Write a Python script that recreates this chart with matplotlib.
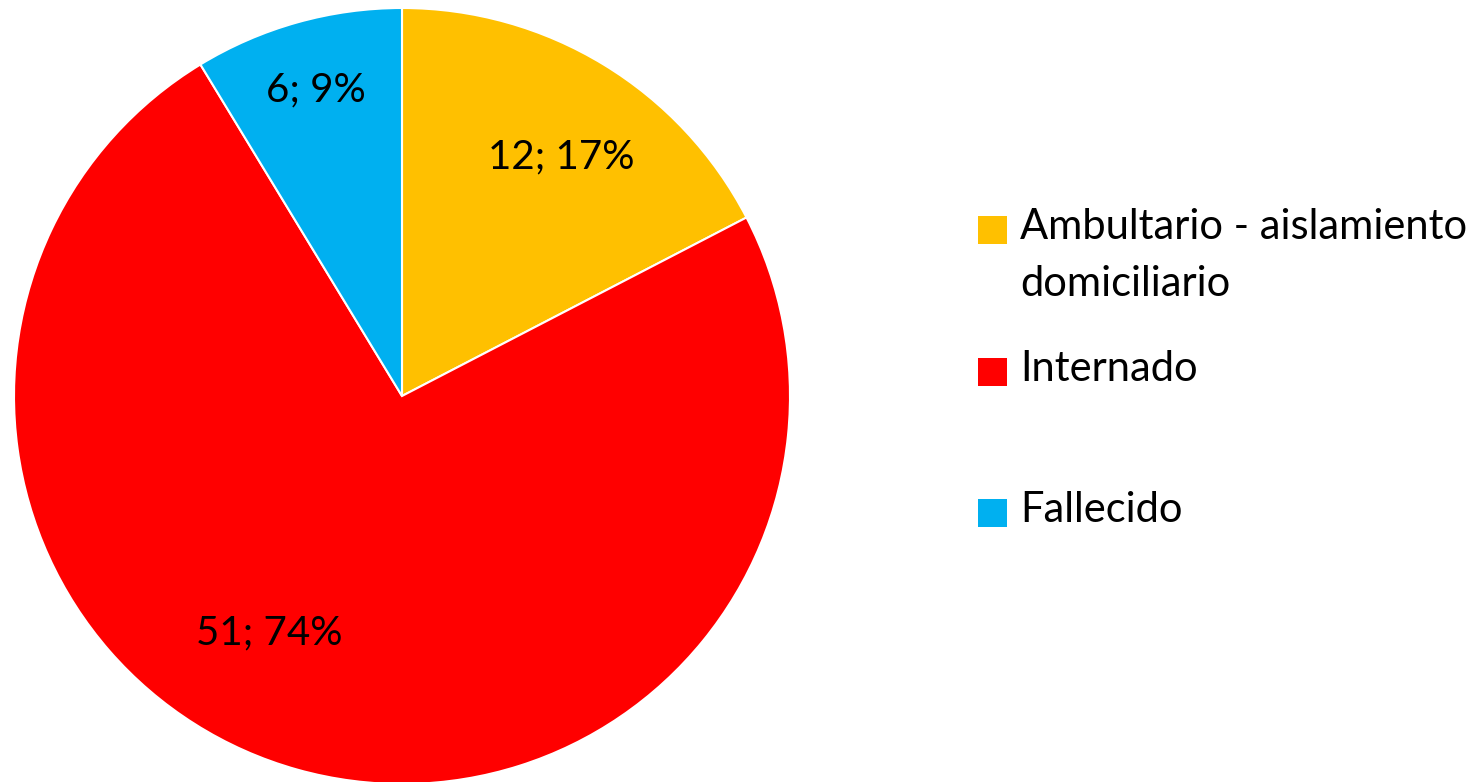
import matplotlib
matplotlib.use("Agg")
import matplotlib.pyplot as plt
from matplotlib.patches import Rectangle
import numpy as np

categories = ["Ambultario - aislamiento\ndomiciliario", "Internado", "Fallecido"]
values = [12, 51, 6]
percents = [17, 74, 9]
colors = ["#FFC000", "#FF0000", "#00B0F0"]

W, H = 1483, 782
fig = plt.figure(figsize=(W / 100, H / 100), dpi=100)
plt.rcParams['font.family'] = ['Lato', 'DejaVu Sans']

R = 388
cx, cy = 402, 386
ax = fig.add_axes([(cx - R) / W, (cy - R) / H, 2 * R / W, 2 * R / H])
wedges, _ = ax.pie(values, colors=colors, startangle=90, counterclock=False,
                   radius=1, wedgeprops=dict(edgecolor="white", linewidth=1.5))
ax.set_xlim(-1, 1)
ax.set_ylim(-1, 1)
ax.set_aspect("equal")
ax.axis("off")

# label placement (Excel best-fit): radial distance and angle offset per slice
label_r = [0.74, 0.70, 0.82]
label_dang = [-2.5, -13.5, 0.0]
for w, v, p, r, da in zip(wedges, values, percents, label_r, label_dang):
    ang = np.deg2rad((w.theta1 + w.theta2) / 2 + da)
    ax.text(r * np.cos(ang), r * np.sin(ang), f"{v}; {p}%", ha="center", va="center",
            fontsize=29, color="black")

# legend
leg_y = [230, 372, 513]
for lab, col, y in zip(categories, colors, leg_y):
    fig.patches.append(Rectangle((978 / W, 1 - (y + 14) / H), 29 / W, 28 / H,
                                 transform=fig.transFigure, facecolor=col, edgecolor="none"))
    fig.text(1020 / W, 1 - (y - 22) / H, lab, ha="left", va="top", fontsize=30,
             linespacing=1.62, color="black")

fig.savefig("out.png", dpi=100)
